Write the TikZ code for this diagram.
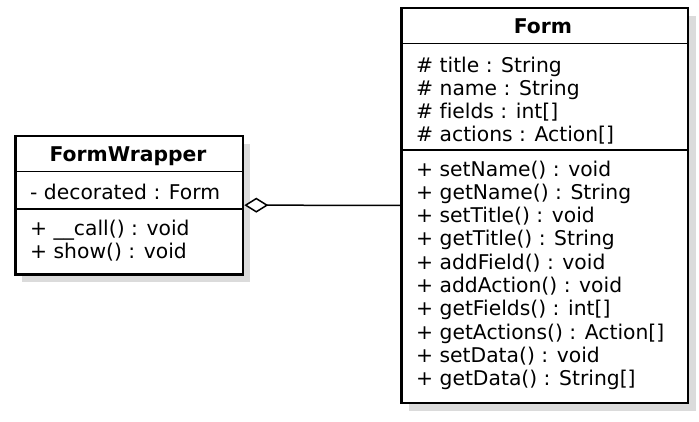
\documentclass[tikz,border=0pt]{standalone}
\usepackage{fontspec}
\setmainfont[Ligatures=NoCommon]{DejaVu Sans}
\usetikzlibrary{arrows.meta}
\begin{document}
\begin{tikzpicture}[x=1pt,y=-1pt,
  classbox/.style={draw=black, line width=2.8pt, fill=white, rectangle, inner sep=0pt, anchor=north west},
  shadowbox/.style={fill=black!14, draw=none},
  divider/.style={line width=1.5pt},
  member/.style={anchor=base west, inner sep=0pt, font=\fontsize{20.3}{23}\selectfont},
  classtitle/.style={anchor=base, inner sep=0pt, font=\fontsize{20.3}{23}\selectfont\bfseries},
  aggreg/.style={line width=1.5pt, -{Diamond[length=24pt,width=15pt,fill=white,line width=1.5pt]}}
]
\useasboundingbox (0,0) rectangle (699,421);
% shadows
\fill[shadowbox] (22,143.5) rectangle (249.5,282);
\fill[shadowbox] (409,16) rectangle (695.5,411);
% boxes
\node[classbox, minimum width=227.5pt, minimum height=138.5pt] (fw) at (14,134.5) {};
\node[classbox, minimum width=286.5pt, minimum height=395pt] (form) at (400,6.5) {};
% dividers
\draw[divider] (fw.west |- 0,171.7) -- (fw.east |- 0,171.7);
\draw[divider] (fw.west |- 0,209) -- (fw.east |- 0,209);
\draw[divider] (form.west |- 0,43.3) -- (form.east |- 0,43.3);
\draw[divider] (form.west |- 0,150) -- (form.east |- 0,150);
% FormWrapper texts
\node[classtitle] (fwt) at (128,161.5) {FormWrapper};
\node[member] (fwa1) at (30,199) {- decorated : Form};
\node[member] (fwm1) at (30,235) {+ \_\_call() : void};
\node[member] (fwm2) at (30,258) {+ show() : void};
% Form texts
\node[classtitle] (formt) at (543,33) {Form};
\node[member] (fa1) at (416,72) {\# title : String};
\node[member] (fa2) at (416,95) {\# name : String};
\node[member] (fa3) at (416,118) {\# fields : int[]};
\node[member] (fa4) at (416,141) {\# actions : Action[]};
\node[member] (fm1) at (416,176) {+ setName() : void};
\node[member] (fm2) at (416,199.3) {+ getName() : String};
\node[member] (fm3) at (416,222.6) {+ setTitle() : void};
\node[member] (fm4) at (416,245.9) {+ getTitle() : String};
\node[member] (fm5) at (416,269.2) {+ addField() : void};
\node[member] (fm6) at (416,292.5) {+ addAction() : void};
\node[member] (fm7) at (416,315.8) {+ getFields() : int[]};
\node[member] (fm8) at (416,339.1) {+ getActions() : Action[]};
\node[member] (fm9) at (416,362.4) {+ setData() : void};
\node[member] (fm10) at (416,385.7) {+ getData() : String[]};
% aggregation
\draw[aggreg] (form.west) -- (fw.east);
\end{tikzpicture}
\end{document}
